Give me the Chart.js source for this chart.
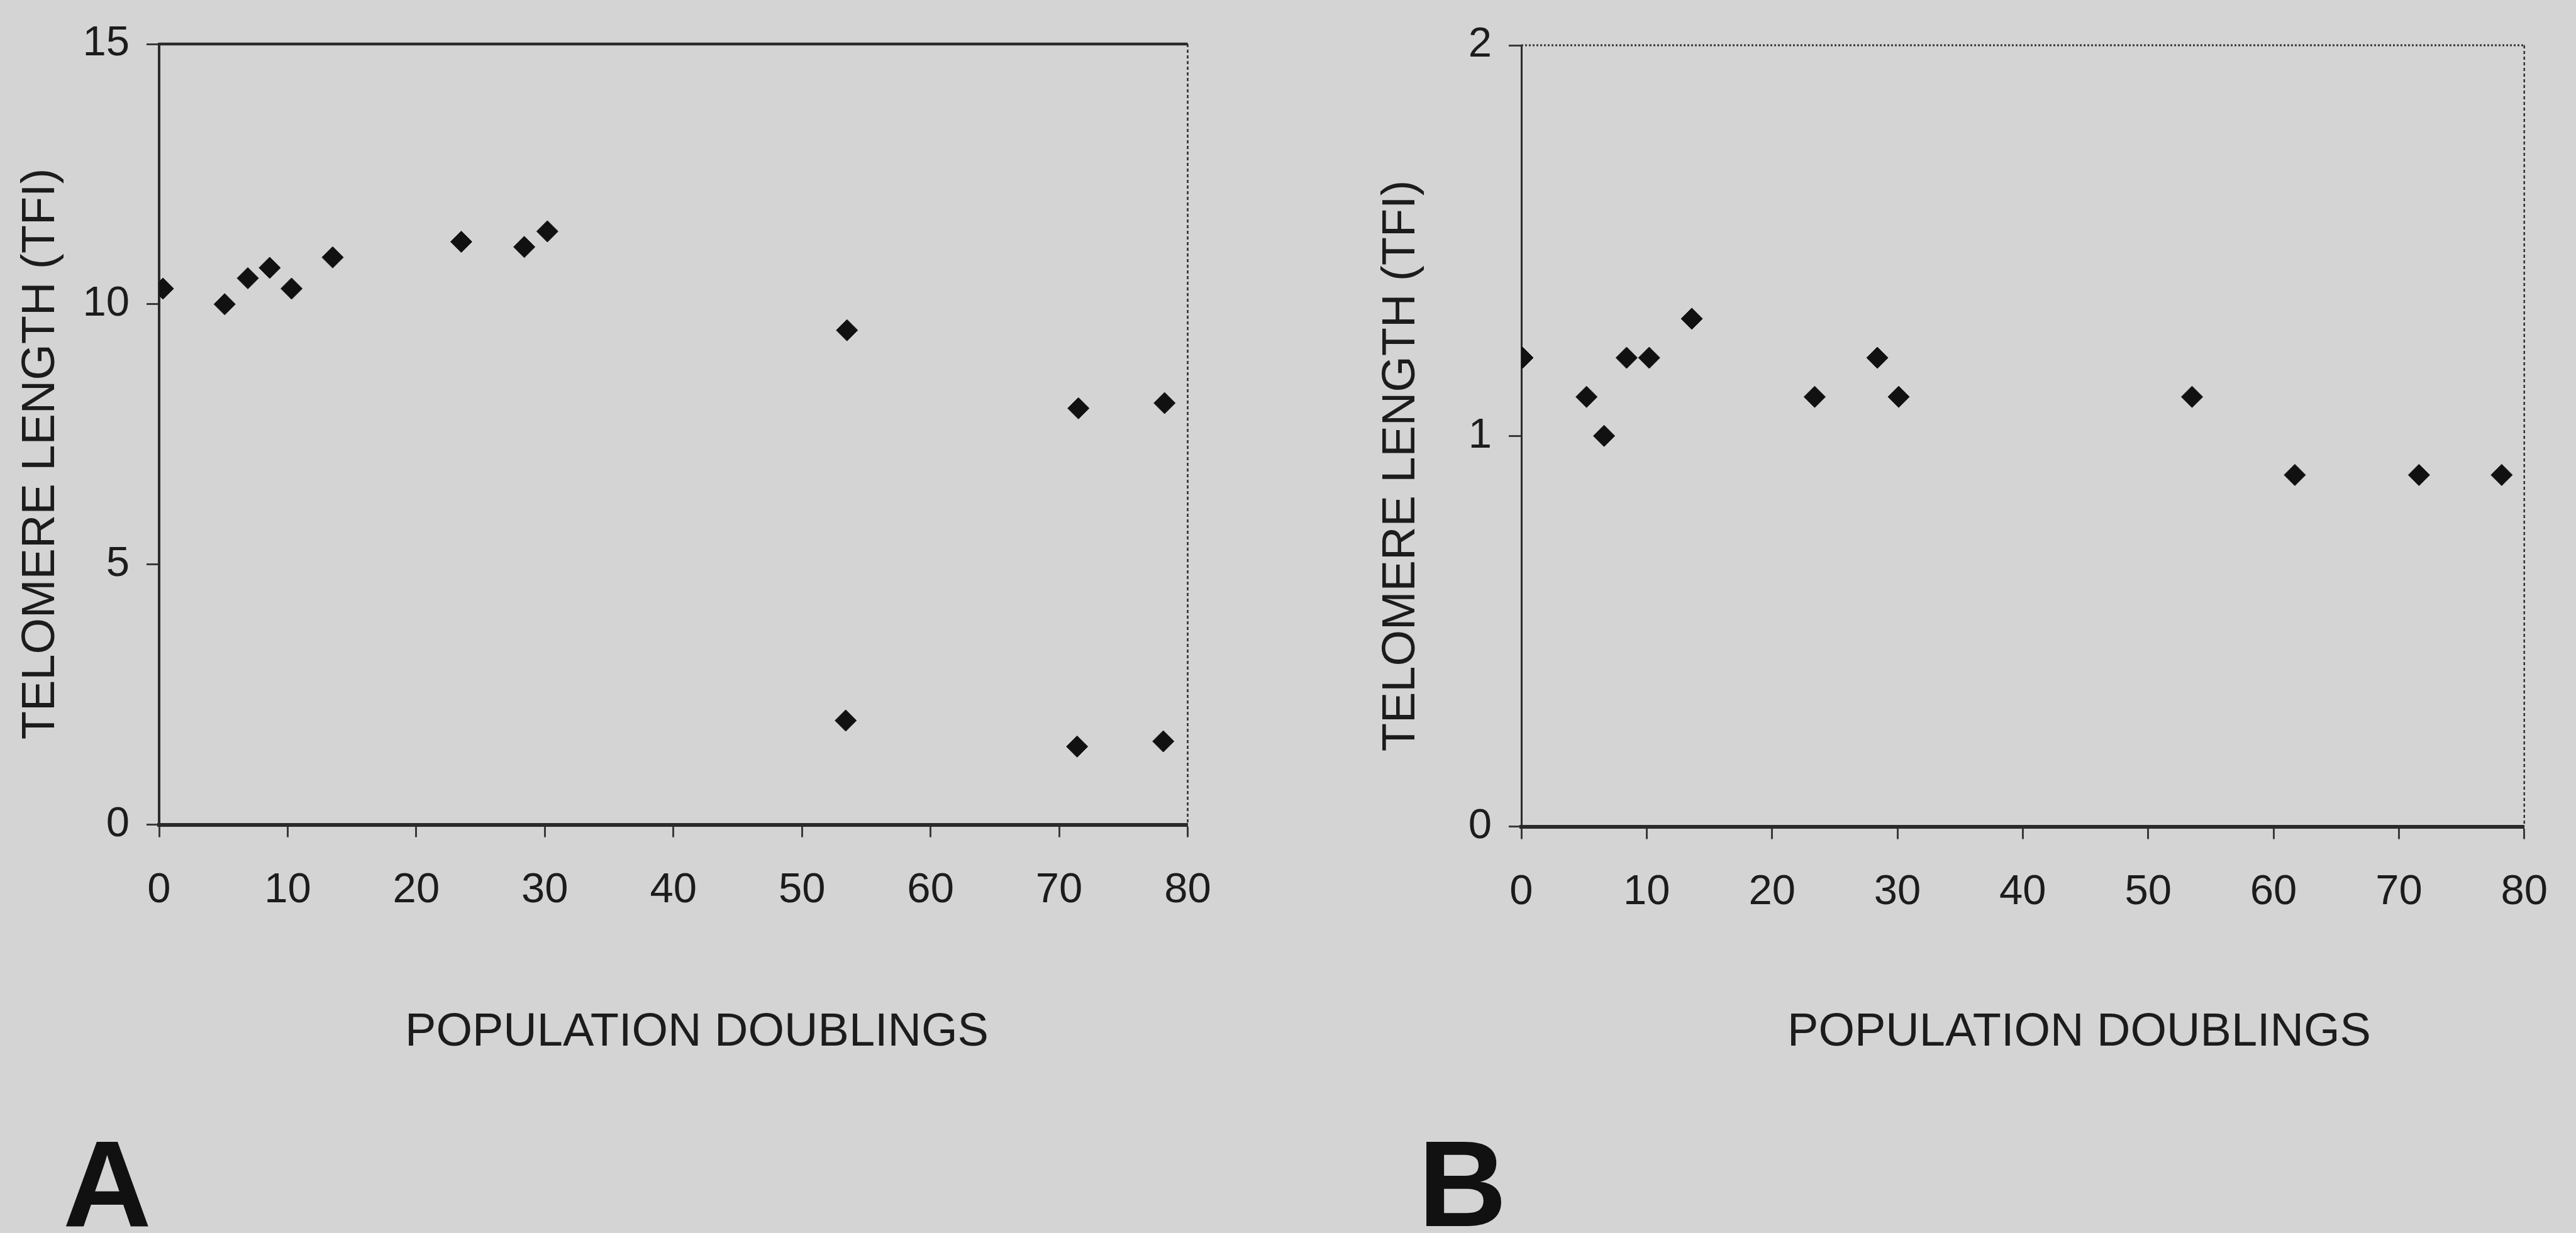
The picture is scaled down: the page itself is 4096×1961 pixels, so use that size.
<!DOCTYPE html>
<html>
<head>
<meta charset="utf-8">
<script src="https://cdn.jsdelivr.net/npm/chart.js@4.4.1/dist/chart.umd.min.js"></script>
<style>
  html, body { margin: 0; padding: 0; background: #d4d4d4; overflow: hidden; }
  #wrap { position: relative; width: 4096px; height: 1961px; }
  canvas { position: absolute; top: 0; }
  #chartA { left: 0; }
  #chartB { left: 2150px; }
</style>
</head>
<body>
<div id="wrap">
  <canvas id="chartA" width="2150" height="1961"></canvas>
  <canvas id="chartB" width="1946" height="1961"></canvas>
</div>
<script>
// panel A : population doublings vs telomere length
const pdA  = [0.3, 5.1, 6.9, 8.6, 10.3, 13.5, 23.5, 28.4, 30.2, 53.5, 71.5, 78.2, 53.4, 71.4, 78.1];
const tflA = [10.3, 10.0, 10.5, 10.7, 10.3, 10.9, 11.2, 11.1, 11.4, 9.5, 8.0, 8.1, 2.0, 1.5, 1.6];

// panel B
const pdB  = [0.1, 5.2, 6.6, 8.4, 10.2, 13.6, 23.4, 28.4, 30.1, 53.5, 61.7, 71.6, 78.2];
const tflB = [1.2, 1.1, 1.0, 1.2, 1.2, 1.3, 1.1, 1.2, 1.1, 1.1, 0.9, 0.9, 0.9];

const xTicks  = [0, 10, 20, 30, 40, 50, 60, 70, 80];
const yTicksA = [0, 5, 10, 15];
const yTicksB = [0, 1, 2];

const xTitle = 'POPULATION DOUBLINGS';
const yTitle = 'TELOMERE LENGTH (TFI)';

const FONT = "'Liberation Sans', Arial, sans-serif";
const INK = '#1c1c1c';

// box round the plot area (top + right edge), drawn under the points
const frame = {
  id: 'frame',
  beforeDatasetsDraw(chart, args, o) {
    const { ctx, chartArea: a } = chart;
    ctx.save();
    ctx.strokeStyle = o.color;
    ctx.lineWidth = o.topWidth;
    ctx.setLineDash(o.topDash);
    ctx.beginPath();
    ctx.moveTo(a.left, a.top);
    ctx.lineTo(a.right, a.top);
    ctx.stroke();
    ctx.lineWidth = o.rightWidth;
    ctx.setLineDash(o.rightDash);
    ctx.beginPath();
    ctx.moveTo(a.right, a.top);
    ctx.lineTo(a.right, a.bottom);
    ctx.stroke();
    ctx.restore();
  }
};

// axis titles (not quite centred in the original) and the panel letter
const extras = {
  id: 'extras',
  afterDraw(chart, args, o) {
    const ctx = chart.ctx;
    ctx.save();
    ctx.fillStyle = INK;
    ctx.textAlign = 'center';
    ctx.textBaseline = 'middle';
    ctx.font = '74px ' + FONT;
    ctx.fillText(xTitle, o.xTitleX, o.xTitleY);

    ctx.save();
    ctx.translate(o.yTitleX, o.yTitleY);
    ctx.rotate(-Math.PI / 2);
    ctx.fillText(yTitle, 0, 0);
    ctx.restore();

    ctx.fillStyle = '#111';
    ctx.textAlign = 'left';
    ctx.textBaseline = 'alphabetic';
    ctx.font = 'bold 195px ' + FONT;
    ctx.fillText(o.letter, o.letterX, o.letterY);
    ctx.restore();
  }
};

function makeChart(id, xs, ys, yTicks, yMax, lay) {
  const pts = xs.map((x, i) => ({ x: x, y: ys[i] }));
  return new Chart(document.getElementById(id), {
    type: 'scatter',
    data: {
      datasets: [{
        data: pts,
        pointStyle: 'rectRot',
        pointRadius: 17,
        pointBackgroundColor: '#111',
        pointBorderColor: '#111',
        pointBorderWidth: 1
      }]
    },
    options: {
      responsive: false,
      animation: false,
      layout: { padding: { left: 0, top: lay.top, right: lay.right, bottom: 0 } },
      plugins: {
        legend: { display: false },
        tooltip: { enabled: false },
        frame: lay.frame,
        extras: lay.extras
      },
      scales: {
        x: {
          type: 'linear',
          min: 0,
          max: 80,
          afterBuildTicks: s => { s.ticks = xTicks.map(v => ({ value: v })); },
          afterFit: s => { s.height = lay.xHeight; },
          ticks: {
            autoSkip: false,
            maxRotation: 0,
            padding: 45,
            color: INK,
            font: { family: FONT, size: 67 }
          },
          grid: {
            drawOnChartArea: false,
            drawTicks: true,
            tickLength: 20,
            tickWidth: 3,
            tickColor: '#3a3a3a'
          },
          border: { display: true, color: '#2a2a2a', width: 6 }
        },
        y: {
          type: 'linear',
          min: 0,
          max: yMax,
          afterBuildTicks: s => { s.ticks = yTicks.map(v => ({ value: v })); },
          afterFit: s => { s.width = lay.yWidth; },
          ticks: {
            autoSkip: false,
            padding: 27,
            color: INK,
            font: { family: FONT, size: 67 }
          },
          grid: {
            drawOnChartArea: false,
            drawTicks: true,
            tickLength: 20,
            tickWidth: 3,
            tickColor: '#3a3a3a'
          },
          border: { display: true, color: '#2a2a2a', width: lay.yBorderWidth, dash: lay.yDash }
        }
      }
    },
    plugins: [frame, extras]
  });
}

makeChart('chartA', pdA, tflA, yTicksA, 15, {
  top: 70,
  right: 261.5,
  yWidth: 253,
  xHeight: 649.5,
  yBorderWidth: 4,
  yDash: [],
  frame: { color: '#2a2a2a', topWidth: 4.5, topDash: [], rightWidth: 2.5, rightDash: [5, 4] },
  extras: { xTitleX: 1108, xTitleY: 1643, yTitleX: 66, yTitleY: 722,
            letter: 'A', letterX: 100, letterY: 1950 }
});

makeChart('chartB', pdB, tflB, yTicksB, 2, {
  top: 72,
  right: 38.5,
  yWidth: 269,
  xHeight: 646.5,
  yBorderWidth: 3,
  yDash: [5, 4],
  frame: { color: '#333', topWidth: 3, topDash: [3, 3], rightWidth: 2.5, rightDash: [5, 4] },
  extras: { xTitleX: 1156, xTitleY: 1643, yTitleX: 79, yTitleY: 741,
            letter: 'B', letterX: 105, letterY: 1950 }
});
</script>
</body>
</html>
